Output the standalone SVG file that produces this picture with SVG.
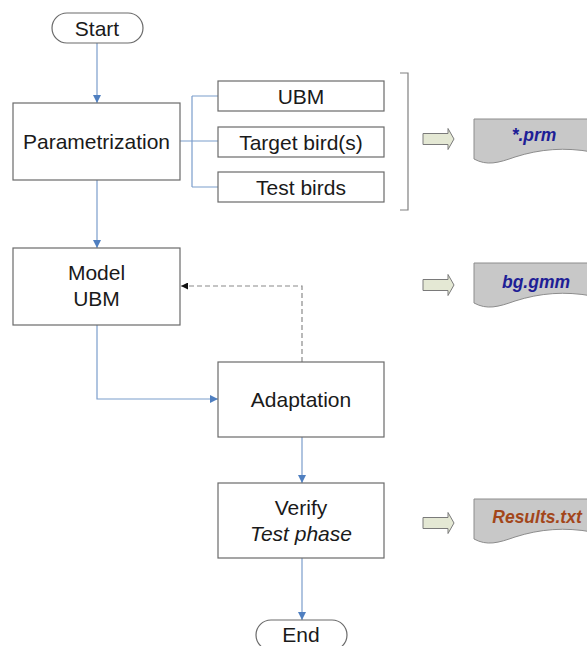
<svg xmlns="http://www.w3.org/2000/svg" width="587" height="646" viewBox="0 0 587 646">
<style>
.box{fill:#fff;stroke:#6a6a6a;stroke-width:1.2}
.t{font-family:"Liberation Sans",Arial,sans-serif;font-size:21px;fill:#1a1a1a;text-anchor:middle}
.it{font-style:italic}
.c{fill:none;stroke:#7b9dcc;stroke-width:1.2}
.d{fill:none;stroke:#8a8a8a;stroke-width:1.2;stroke-dasharray:5,3}
.doc{fill:#c8c8c8;stroke:#8c8c8c;stroke-width:1}
.ba{fill:#e4e8d4;stroke:#7a7a7a;stroke-width:1}
.dt{font-family:"Liberation Sans",Arial,sans-serif;font-size:17.5px;font-weight:bold;font-style:italic;text-anchor:middle}
</style>
<defs>
<marker id="ah" viewBox="0 0 10 10" refX="10" refY="5" markerWidth="8" markerHeight="8" markerUnits="userSpaceOnUse" orient="auto"><path d="M0,0 L10,5 L0,10 Z" fill="#4f7fc0"/></marker>
<marker id="ahk" viewBox="0 0 10 10" refX="10" refY="5" markerWidth="7" markerHeight="7" markerUnits="userSpaceOnUse" orient="auto"><path d="M0,0 L10,5 L0,10 Z" fill="#111"/></marker>
</defs>
<g id="connectors">
<path class="c" d="M97,43 V103" marker-end="url(#ah)"/>
<path class="c" d="M180,141 H192 M192,96 V187 M192,96 H218 M192,141 H218 M192,187 H218"/>
<path class="c" d="M97,180 V248" marker-end="url(#ah)"/>
<path class="c" d="M97,325 V399 H218" marker-end="url(#ah)"/>
<path class="d" d="M302,362 V286 H181" marker-end="url(#ahk)"/>
<path class="c" d="M302,437 V483" marker-end="url(#ah)"/>
<path class="c" d="M302,558 V620" marker-end="url(#ah)"/>
<path fill="none" stroke="#808080" stroke-width="1.2" d="M400,73 H408 V210 H400"/>
</g>
<g id="start"><rect class="box" x="52" y="13" width="91" height="30" rx="15"/><text class="t" x="97" y="35.5">Start</text></g>
<g id="parametrization"><rect class="box" x="13" y="103" width="167" height="77"/><text class="t" x="96.5" y="148.5">Parametrization</text></g>
<g id="ubm"><rect class="box" x="218" y="81" width="166" height="30"/><text class="t" x="301" y="103.5">UBM</text></g>
<g id="target"><rect class="box" x="218" y="127" width="166" height="30"/><text class="t" x="301" y="149.5">Target bird(s)</text></g>
<g id="test"><rect class="box" x="218" y="172" width="166" height="30"/><text class="t" x="301" y="194.5">Test birds</text></g>
<g id="model"><rect class="box" x="13" y="248" width="167" height="77"/><text class="t" x="96.5" y="279.5">Model</text><text class="t" x="96.5" y="305.5">UBM</text></g>
<g id="adaptation"><rect class="box" x="218" y="362" width="166" height="75"/><text class="t" x="301" y="406.5">Adaptation</text></g>
<g id="verify"><rect class="box" x="218" y="483" width="166" height="75"/><text class="t" x="301" y="514.5">Verify</text><text class="t it" x="301" y="540.5">Test phase</text></g>
<g id="end"><rect class="box" x="256" y="620" width="91" height="30" rx="15"/><text class="t" x="301" y="642">End</text></g>
<g id="prm">
<path class="ba" d="M423,133.5 H448 V128.5 L454,139 L448,149.5 V144.5 H423 Z"/>
<path class="doc" d="M474,119 H592 V152 C565,147 540,149 515,157 C498,163 487,166 474,159 Z"/>
<text class="dt" x="534" y="141" fill="#1e1e96">*.prm</text>
</g>
<g id="bggmm">
<path class="ba" d="M423,279.5 H448 V274.5 L454,285 L448,295.5 V290.5 H423 Z"/>
<path class="doc" d="M474,263 H592 V296 C565,291 540,293 515,301 C498,307 487,310 474,303 Z"/>
<text class="dt" x="536" y="288" fill="#1e1e96">bg.gmm</text>
</g>
<g id="results">
<path class="ba" d="M423,517.5 H448 V512.5 L454,523 L448,533.5 V528.5 H423 Z"/>
<path class="doc" d="M474,499 H592 V532 C565,527 540,529 515,537 C498,543 487,546 474,539 Z"/>
<text class="dt" x="537" y="523" fill="#a3461a">Results.txt</text>
</g>
</svg>
